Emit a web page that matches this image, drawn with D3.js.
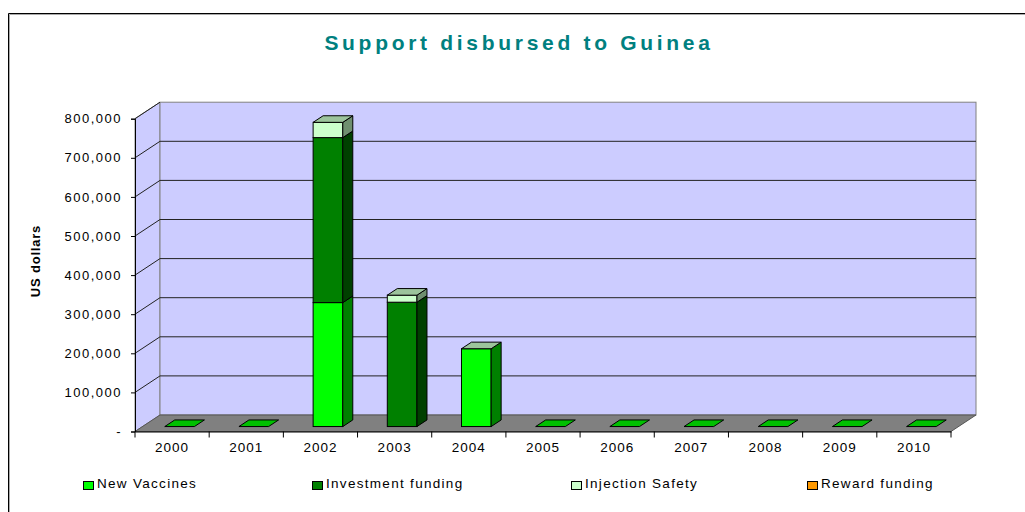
<!DOCTYPE html>
<html>
<head>
<meta charset="utf-8">
<script src="https://cdn.jsdelivr.net/npm/d3@7"></script>
<style>
  body { margin: 0; background: #fff; }
  svg { display: block; font-family: Arial, "Liberation Sans", sans-serif; }
</style>
</head>
<body>
<svg id="chart" width="1025" height="512"></svg>
<script>
// data
var years = ["2000","2001","2002","2003","2004","2005","2006","2007","2008","2009","2010"];
var seriesNames = ["New Vaccines","Investment funding","Injection Safety","Reward funding"];
var newVaccines   = [0, 0, 317000, 0, 199000, 0, 0, 0, 0, 0, 0];
var investment    = [0, 0, 422000, 318000, 0, 0, 0, 0, 0, 0, 0];
var injection     = [0, 0, 39000, 18000, 0, 0, 0, 0, 0, 0, 0];
var reward        = [0, 0, 0, 0, 0, 0, 0, 0, 0, 0, 0];
var yTicks = [0, 100000, 200000, 300000, 400000, 500000, 600000, 700000, 800000];

// colours: front, side, top
var faceCols = [
  {front:"#00ff00", side:"#008000", top:"#9cc49c"},
  {front:"#008000", side:"#004000", top:"#9cc49c"},
  {front:"#ccffcc", side:"#6f8f6f", top:"#9cc49c"},
  {front:"#ff9900", side:"#996600", top:"#cc9966"}
];
var series = [newVaccines, investment, injection, reward];

var svg = d3.select("#chart");

// outer frame
svg.append("path").attr("d","M9.5,512 V14.5 H1025").attr("fill","none").attr("stroke","#aaa");
svg.append("path").attr("d","M8.5,512 V13.5 H1025").attr("fill","none").attr("stroke","#000");

// title
svg.append("text")
  .attr("x", 519).attr("y", 50)
  .attr("text-anchor","middle")
  .attr("fill","#008080")
  .style("font-size","21px").style("font-weight","bold").style("letter-spacing","3.7px")
  .text("Support disbursed to Guinea");

var x = d3.scaleBand().domain(years).range([135, 951]).paddingInner(0).paddingOuter(0);
var y = d3.scaleLinear().domain([0, 800000]).range([431.5, 118.7]);
var DX = 25, DY = -16.5;       // full depth of the 3d box
var d0 = 0.3, d1 = 0.7;        // where the bars sit in the depth

var x0 = x.range()[0], x1 = x.range()[1];
var yb = y(0), yt = y(800000);

// left side wall
svg.append("polygon")
  .attr("points", [[x0,yb],[x0+DX,yb+DY],[x0+DX,yt+DY],[x0,yt]].join(" "))
  .attr("fill","#ccccff").attr("stroke","#808080");
// back wall
svg.append("rect")
  .attr("x", x0+DX).attr("y", yt+DY).attr("width", x1-x0).attr("height", yb-yt)
  .attr("fill","#ccccff").attr("stroke","#808080");
// floor
svg.append("polygon")
  .attr("points", [[x0,yb],[x1,yb],[x1+DX,yb+DY],[x0+DX,yb+DY]].join(" "))
  .attr("fill","#808080").attr("stroke","#555");

// gridlines on back and side walls
yTicks.slice(1, -1).forEach(function(t){
  svg.append("line")
    .attr("x1", x0+DX).attr("x2", x1+DX).attr("y1", y(t)+DY).attr("y2", y(t)+DY)
    .attr("stroke","#222");
});
yTicks.slice(1).forEach(function(t){
  svg.append("line")
    .attr("x1", x0).attr("y1", y(t)).attr("x2", x0+DX).attr("y2", y(t)+DY)
    .attr("stroke","#222");
});

// y axis
var yAxis = d3.axisLeft(y).tickValues(yTicks).tickSize(4).tickPadding(9)
  .tickFormat(function(d){ return d === 0 ? "-" : d3.format(",")(d); });
var gy = svg.append("g").attr("transform","translate(" + x0 + ",0)").call(yAxis);
gy.select(".domain").attr("stroke","#000");
gy.selectAll("text").style("font-size","13px").style("letter-spacing","1.5px").attr("fill","#000");

// x axis
var xAxis = d3.axisBottom(x).tickSize(0).tickPadding(11);
var gx = svg.append("g").attr("transform","translate(0," + yb + ")").call(xAxis);
gx.select(".domain").attr("stroke","#000");
gx.selectAll("text").style("font-size","13.5px").style("letter-spacing","1px").attr("fill","#000");
years.concat(["end"]).forEach(function(yr, i){
  var xx = i < years.length ? x(yr) : x1;
  gx.append("line").attr("x1", xx).attr("x2", xx).attr("y1", 0).attr("y2", 6).attr("stroke","#000");
});

// y title
svg.append("text")
  .attr("transform","translate(40,261) rotate(-90)")
  .attr("text-anchor","middle")
  .style("font-size","13px").style("font-weight","bold").style("letter-spacing","0.8px")
  .text("US dollars");

// bars
var bw = x.bandwidth() * 0.4;
var bdx = DX * (d1 - d0), bdy = DY * (d1 - d0);
var bars = svg.append("g");
years.forEach(function(yr, i){
  var fx = x(yr) + (x.bandwidth() - bw) / 2 + DX * d0;
  var fyOff = DY * d0;
  var base = 0;
  var lastTop = null;
  series.forEach(function(s, k){
    var v = s[i];
    if (!v) return;
    var yTop = y(base + v) + fyOff, yBot = y(base) + fyOff;
    bars.append("rect")
      .attr("x", fx).attr("y", yTop).attr("width", bw).attr("height", yBot - yTop)
      .attr("fill", faceCols[k].front).attr("stroke","#000");
    bars.append("polygon")
      .attr("points", [[fx+bw,yBot],[fx+bw+bdx,yBot+bdy],[fx+bw+bdx,yTop+bdy],[fx+bw,yTop]].join(" "))
      .attr("fill", faceCols[k].side).attr("stroke","#000");
    base += v;
    lastTop = {y: yTop, k: k};
  });
  var topY = lastTop ? lastTop.y : y(0) + fyOff;
  bars.append("polygon")
    .attr("points", [[fx,topY],[fx+bw,topY],[fx+bw+bdx,topY+bdy],[fx+bdx,topY+bdy]].join(" "))
    .attr("fill", lastTop ? faceCols[lastTop.k].top : "#00c000").attr("stroke","#000");
});

// legend
var legendX = [83, 312, 571, 807];
var lg = svg.append("g");
seriesNames.forEach(function(n, k){
  lg.append("rect").attr("x", legendX[k] + 0.5).attr("y", 481.5).attr("width", 10).attr("height", 8)
    .attr("fill", faceCols[k].front).attr("stroke","#000");
  lg.append("text").attr("x", legendX[k] + 14).attr("y", 488)
    .style("font-size","13.5px").style("letter-spacing","1.3px")
    .text(n);
});
</script>
</body>
</html>
